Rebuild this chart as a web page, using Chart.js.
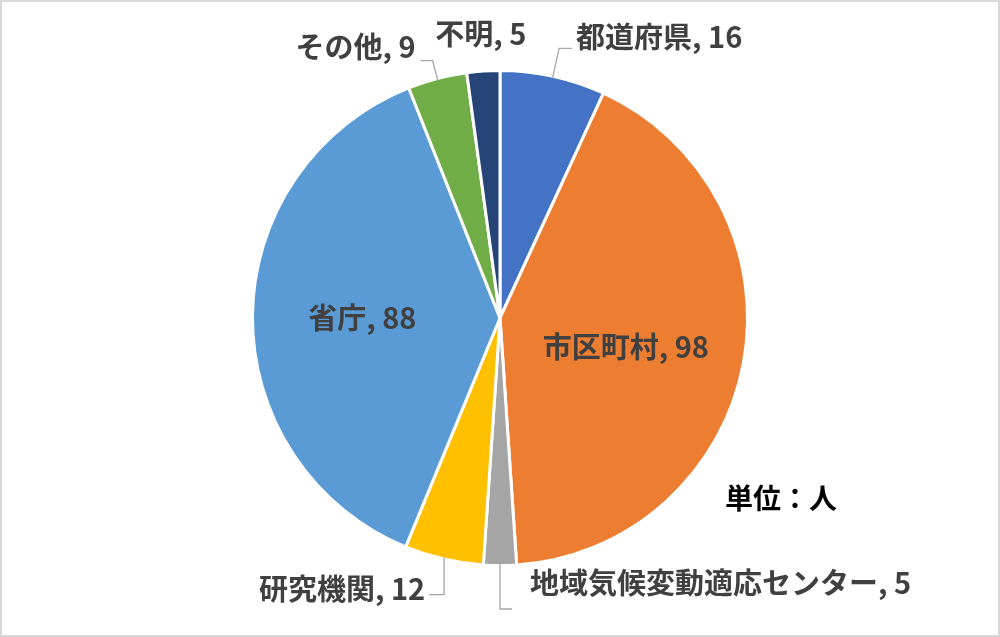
<!DOCTYPE html>
<html lang="ja">
<head>
<meta charset="utf-8">
<script src="https://cdn.jsdelivr.net/npm/chart.js@4.4.1/dist/chart.umd.min.js"></script>
<style>
  html, body { margin: 0; padding: 0; background: #ffffff; }
  #wrap { width: 1000px; height: 637px; position: relative; }
  canvas { display: block; }
</style>
</head>
<body>
<div id="wrap"><canvas id="c" width="1000" height="637"></canvas></div>
<script>
// ---- data ----
const categories = ['都道府県', '市区町村', '地域気候変動適応センター', '研究機関', '省庁', 'その他', '不明'];
const counts = [16, 98, 5, 12, 88, 9, 5];
const unitLabel = '単位：人';

// ---- styles ----
const sliceColors = ['#4472C4', '#ED7D31', '#A5A5A5', '#FFC000', '#5B9BD5', '#70AD47', '#264478'];
const labelFont = 'bold 29px "Noto Sans CJK JP", "Noto Sans", sans-serif';
const labelColor = '#404040';
const leaderColor = '#A6A6A6';

// label placement style per slice (in order of categories)
const labelStyle = [
  { mode: 'leader', dir: 'radial',   len: 30, hlen: 13, gap: 4, side: 'right', dy: -11 },
  { mode: 'inside', rf: 0.52, dy: 6 },
  { mode: 'leader', dir: 'vertical', len: 45, hlen: 12, gap: 18, side: 'right', dy: -26 },
  { mode: 'leader', dir: 'vertical', len: 37, hlen: 15, gap: 4, side: 'left', dy: -6 },
  { mode: 'inside', rf: 0.56, dy: 1 },
  { mode: 'leader', dir: 'radial',   len: 20, hlen: 12, gap: 5, side: 'left', dy: -14 },
  { mode: 'plain', extra: 39 }
];

const labelPlugin = {
  id: 'pieLabels',
  beforeDraw(chart) {
    const ctx = chart.ctx;
    ctx.save();
    ctx.strokeStyle = '#D9D9D9';
    ctx.lineWidth = 2;
    ctx.strokeRect(1, 1, chart.width - 2, chart.height - 2);
    ctx.restore();
  },
  afterDatasetsDraw(chart) {
    const ctx = chart.ctx;
    const meta = chart.getDatasetMeta(0);
    ctx.save();
    ctx.font = labelFont;
    ctx.fillStyle = labelColor;
    ctx.textBaseline = 'middle';
    let pcx = 0, pcy = 0;
    meta.data.forEach((arc, i) => {
      const st = labelStyle[i];
      const p = arc.getProps(['x', 'y', 'startAngle', 'endAngle', 'outerRadius'], true);
      const mid = (p.startAngle + p.endAngle) / 2;
      const R = p.outerRadius - 1.5;
      const cx = p.x, cy = p.y;
      pcx = cx; pcy = cy;
      const text = categories[i] + ', ' + counts[i];
      if (st.mode === 'inside') {
        const r = R * st.rf;
        ctx.textAlign = 'center';
        ctx.fillText(text, cx + Math.cos(mid) * r, cy + Math.sin(mid) * r + st.dy);
      } else if (st.mode === 'plain') {
        const r = R + st.extra;
        ctx.textAlign = 'center';
        ctx.fillText(text, cx + Math.cos(mid) * r, cy + Math.sin(mid) * r);
      } else {
        const sx = cx + Math.cos(mid) * R;
        const sy = cy + Math.sin(mid) * R;
        let ex, ey;
        if (st.dir === 'radial') {
          ex = cx + Math.cos(mid) * (R + st.len);
          ey = cy + Math.sin(mid) * (R + st.len);
        } else {
          ex = sx;
          ey = sy + st.len;
        }
        const hx = st.side === 'right' ? ex + st.hlen : ex - st.hlen;
        ctx.strokeStyle = leaderColor;
        ctx.lineWidth = 1.3;
        ctx.beginPath();
        ctx.moveTo(sx, sy);
        ctx.lineTo(ex, ey);
        ctx.lineTo(hx, ey);
        ctx.stroke();
        if (st.side === 'right') {
          ctx.textAlign = 'left';
          ctx.fillText(text, hx + st.gap, ey + st.dy);
        } else {
          ctx.textAlign = 'right';
          ctx.fillText(text, hx - st.gap, ey + st.dy);
        }
      }
    });
    // unit text box (placed relative to the pie centre)
    ctx.fillStyle = '#000000';
    ctx.textAlign = 'left';
    ctx.font = 'bold 28px "Noto Sans CJK JP", sans-serif';
    ctx.fillText(unitLabel, pcx + 225, pcy + 180);
    ctx.restore();
  }
};

new Chart(document.getElementById('c'), {
  type: 'pie',
  data: {
    labels: categories,
    datasets: [{
      data: counts,
      backgroundColor: sliceColors,
      borderColor: '#FFFFFF',
      borderWidth: 3
    }]
  },
  options: {
    responsive: false,
    animation: false,
    layout: { padding: { top: 69, bottom: 70, left: 0, right: 0 } },
    plugins: {
      legend: { display: false },
      tooltip: { enabled: false }
    }
  },
  plugins: [labelPlugin]
});
</script>
</body>
</html>
